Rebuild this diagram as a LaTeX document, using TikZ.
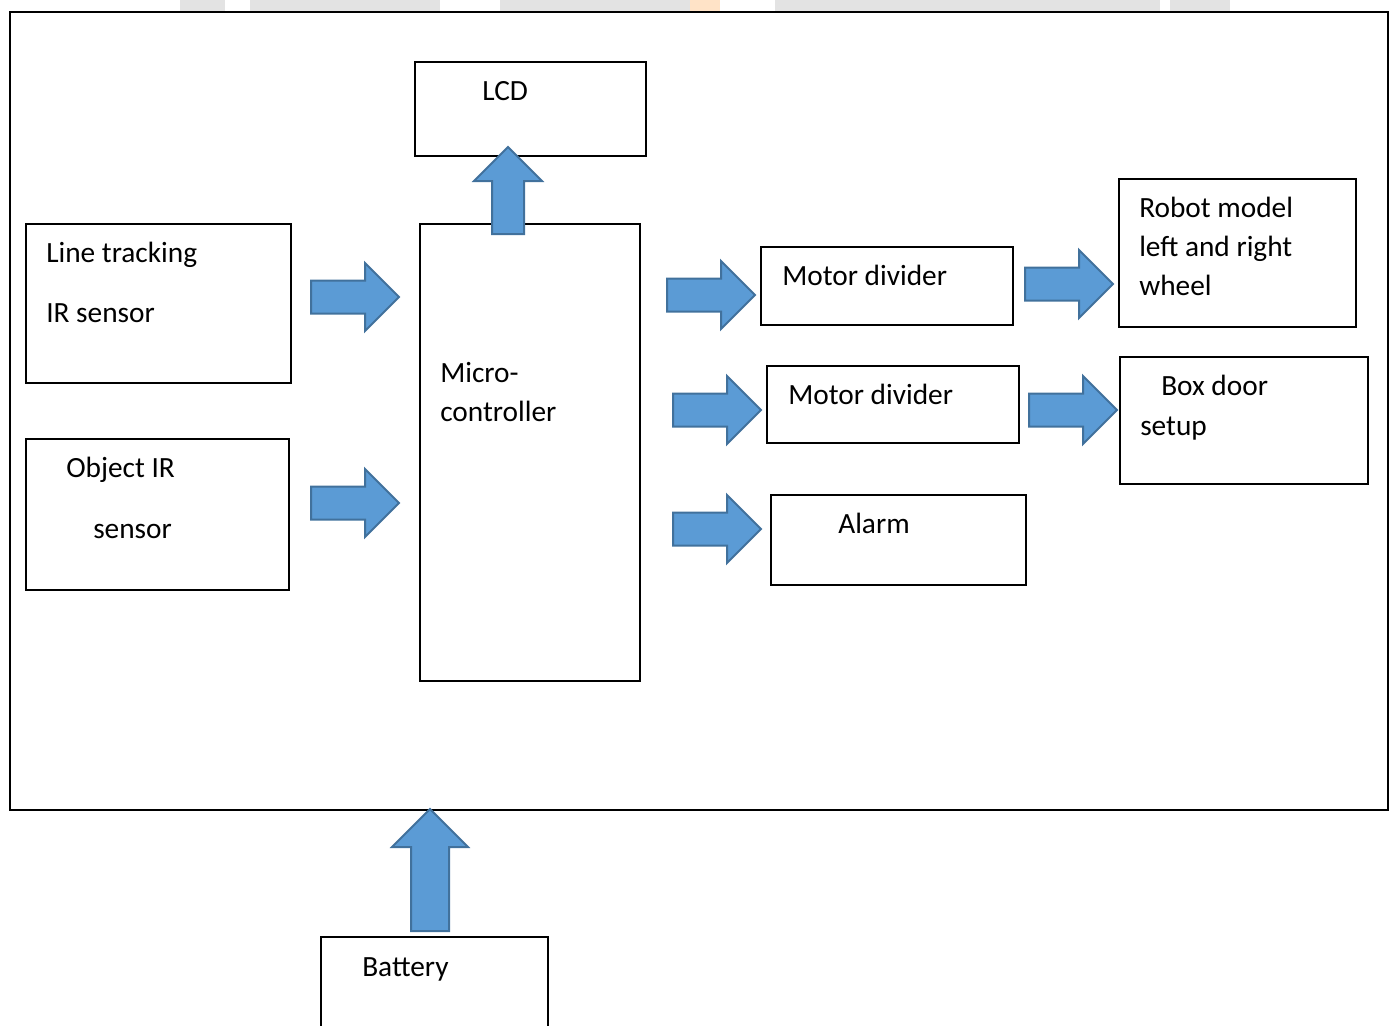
\documentclass[tikz,border=0pt]{standalone}
\usepackage{fontspec}
\setmainfont{Carlito}
\begin{document}
\begin{tikzpicture}[x=0.75pt,y=-0.75pt,
  box/.style={draw=black,line width=0.9pt},
  lbl/.style={anchor=base west,inner sep=0pt,font=\fontsize{22}{26}\selectfont},
  barrow/.style={fill=arrowfill,draw=arrowline,line width=1.5pt,line join=miter}]
\definecolor{arrowfill}{HTML}{5B9BD5}
\definecolor{arrowline}{HTML}{41719C}
\useasboundingbox (0,0) rectangle (1389,1025);
% faint background remnant at top
\fill[gray!22] (180,0) rectangle (225,11);
\fill[gray!22] (250,0) rectangle (440,11);
\fill[gray!22] (500,0) rectangle (690,11);
\fill[orange!22] (690,0) rectangle (720,11);
\fill[gray!22] (775,0) rectangle (1160,11);
\fill[gray!22] (1170,0) rectangle (1230,11);
% outer frame
\draw[box] (10,12) rectangle (1388,810);
% boxes
\draw[box] (415,62) rectangle (646,156);
\node[lbl] (lcd) at (482,100) {LCD};
\draw[box] (26,224) rectangle (291,383);
\node[lbl] (lt1) at (46,262) {Line tracking};
\node[lbl] (lt2) at (46,322) {IR sensor};
\draw[box] (26,439) rectangle (289,590);
\node[lbl] (ob1) at (66,477) {Object IR};
\node[lbl] (ob2) at (93,538) {sensor};
\draw[box] (420,224) rectangle (640,681);
\node[lbl] (mc1) at (440,382) {Micro-};
\node[lbl] (mc2) at (440,421) {controller};
\draw[box] (761,247) rectangle (1013,325);
\node[lbl] (md1) at (782,285) {Motor divider};
\draw[box] (767,366) rectangle (1019,443);
\node[lbl] (md2) at (788,404) {Motor divider};
\draw[box] (771,495) rectangle (1026,585);
\node[lbl] (al) at (838,533) {Alarm};
\draw[box] (1119,179) rectangle (1356,327);
\node[lbl] (rb1) at (1139,217) {Robot model};
\node[lbl] (rb2) at (1139,256) {left and right};
\node[lbl] (rb3) at (1139,295) {wheel};
\draw[box] (1120,357) rectangle (1368,484);
\node[lbl] (bd1) at (1161,395) {Box door};
\node[lbl] (bd2) at (1140,435) {setup};
\draw[box] (321,1030) -- (321,937) -- (548,937) -- (548,1030);
\node[lbl] (bat) at (362,976) {Battery};
% right block arrows: tail x, tip x, centre y
\foreach \xa/\xb/\yc in {311/399/297, 311/399/503, 667/755/295, 673/761/410, 673/761/529, 1025/1113/284, 1029/1117/410}{
  \draw[barrow] (\xa,\yc-16.5) -- (\xb-34,\yc-16.5) -- (\xb-34,\yc-34) -- (\xb,\yc)
     -- (\xb-34,\yc+34) -- (\xb-34,\yc+16.5) -- (\xa,\yc+16.5) -- cycle;
}
% up arrow to LCD
\draw[barrow] (492,234) -- (492,181) -- (474,181) -- (508,147) -- (542,181) -- (524,181) -- (524,234) -- cycle;
% battery arrow
\draw[barrow] (411,931) -- (411,847) -- (392,847) -- (430,809) -- (468,847) -- (449,847) -- (449,931) -- cycle;
\end{tikzpicture}
\end{document}
